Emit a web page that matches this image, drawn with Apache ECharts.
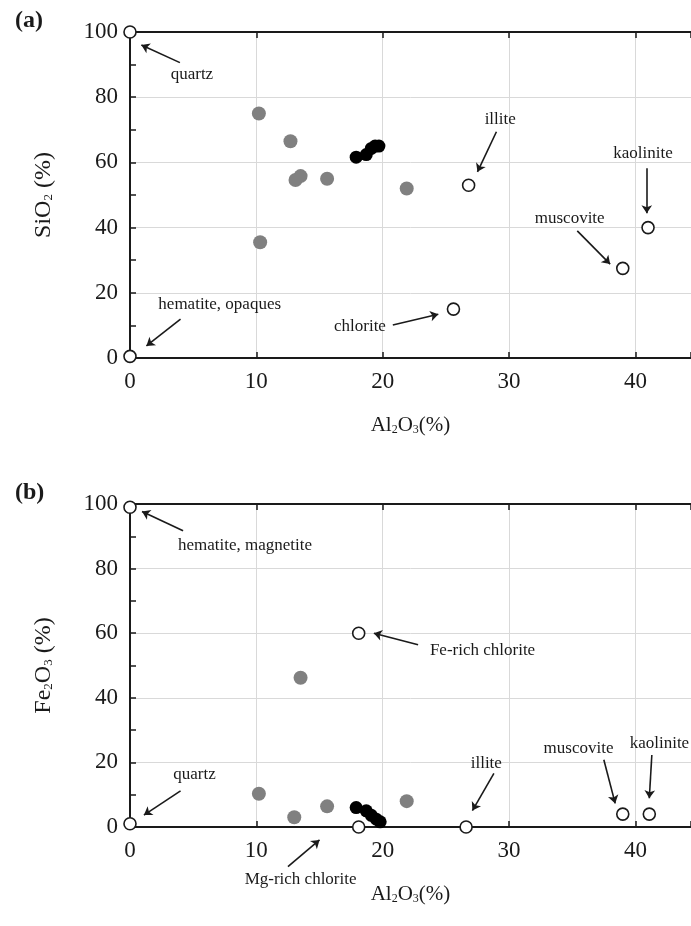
<!DOCTYPE html>
<html>
<head>
<meta charset="utf-8">
<script src="https://cdn.jsdelivr.net/npm/echarts@6/dist/echarts.min.js"></script>
<style>
  html, body { margin: 0; padding: 0; background: #fff; }
  #chart { width: 691px; height: 926px; }
</style>
</head>
<body>
<div id="chart"></div>
<script>
// (a) SiO2 vs Al2O3
const grayA = [[10.2, 75.0], [12.7, 66.5], [13.1, 54.6], [13.5, 55.8], [15.6, 55.0], [21.9, 52.0], [10.3, 35.5]]
const blackA = [[17.9, 61.6], [18.7, 62.4], [19.1, 64.3], [19.4, 65.0], [19.7, 65.0]]
const mineralsA = [[0, 100], [0, 0.5], [25.6, 15], [26.8, 53], [39.0, 27.5], [41.0, 40]]

// (b) Fe2O3 vs Al2O3
const grayB = [[10.2, 10.3], [13.0, 3.0], [13.5, 46.2], [15.6, 6.4], [21.9, 8.0]]
const blackB = [[17.9, 6.0], [18.7, 5.0], [19.1, 3.6], [19.5, 2.4], [19.8, 1.6]]
const mineralsB = [[0, 99], [0, 1], [18.1, 60], [18.1, 0], [26.6, 0], [39.0, 4], [41.1, 4]]

const xTicks = [0, 10, 20, 30, 40]
const yTicks = [0, 20, 40, 60, 80, 100]

// annotation text, label anchor, arrow tail, arrow head (data units)
const notesA = [
    { text: 'quartz', at: [4.9, 87.1], from: [3.95, 90.6], to: [0.9, 96.0] },
    { text: 'hematite, opaques', at: [7.1, 16.3], from: [4.0, 11.9], to: [1.3, 3.7] },
    { text: 'chlorite', at: [18.2, 9.6], from: [20.8, 10.1], to: [24.4, 13.4] },
    { text: 'illite', at: [29.3, 73], from: [29.0, 69.4], to: [27.5, 57.1] },
    { text: 'muscovite', at: [34.8, 42.9], from: [35.4, 39.0], to: [38.0, 28.8] },
    { text: 'kaolinite', at: [40.6, 62.8], from: [40.9, 58.2], to: [40.9, 44.4] }
]
const notesB = [
    { text: 'hematite, magnetite', at: [9.1, 87.1], from: [4.2, 91.7], to: [0.95, 97.7] },
    { text: 'Fe-rich chlorite', at: [27.9, 54.6], from: [22.8, 56.4], to: [19.3, 60] },
    { text: 'quartz', at: [5.1, 16.1], from: [4.0, 11.2], to: [1.1, 3.7] },
    { text: 'illite', at: [28.2, 19.7], from: [28.8, 16.6], to: [27.1, 5.1] },
    { text: 'muscovite', at: [35.5, 24.3], from: [37.5, 20.8], to: [38.4, 7.3] },
    { text: 'kaolinite', at: [41.9, 25.7], from: [41.3, 22.3], to: [41.1, 8.9] },
    { text: 'Mg-rich chlorite', at: [13.5, -16.2], from: [12.5, -12.3], to: [15.0, -4.0] }
]

const serif = 'Liberation Serif'
const ink = '#1a1a1a'

const xRich = {
    n: { fontFamily: serif, fontSize: 21, color: ink },
    s: { fontFamily: serif, fontSize: 12, color: ink, padding: [9, 0, 0, 0] }
}
const yRich = {
    n: { fontFamily: serif, fontSize: 24, color: ink },
    s: { fontFamily: serif, fontSize: 13, color: ink, padding: [10, 0, 0, 0] }
}

function bottomX(grid) {
    return {
        type: 'value', gridIndex: grid, min: 0, max: 44.4, interval: 10,
        position: 'bottom',
        name: '{n|Al}{s|2}{n|O}{s|3}{n|(%)}',
        nameLocation: 'middle', nameGap: 57,
        nameTextStyle: { rich: xRich },
        axisLine: { onZero: false, lineStyle: { color: ink, width: 2 } },
        axisTick: { inside: true, length: 6, lineStyle: { color: ink, width: 1.5 } },
        axisLabel: {
            fontFamily: serif, fontSize: 23, color: ink, margin: 12,
            customValues: xTicks
        },
        splitLine: { show: true, lineStyle: { color: '#d9d9d9', width: 1 } }
    }
}

function topX(grid) {
    return {
        type: 'value', gridIndex: grid, min: 0, max: 44.4, interval: 10,
        position: 'top',
        axisLine: { onZero: false, lineStyle: { color: ink, width: 2 } },
        axisTick: { inside: true, length: 6, lineStyle: { color: ink, width: 1.5 } },
        axisLabel: { show: false },
        splitLine: { show: false }
    }
}

function leftY(grid, sub) {
    return {
        type: 'value', gridIndex: grid, min: 0, max: 100, interval: 20,
        name: sub,
        nameLocation: 'middle', nameRotate: 90, nameGap: 74,
        nameTextStyle: { rich: yRich },
        axisLine: { onZero: false, lineStyle: { color: ink, width: 2 } },
        axisTick: { inside: true, length: 6, lineStyle: { color: ink, width: 1.5 } },
        minorTick: { show: true, splitNumber: 2, length: 6, lineStyle: { color: ink, width: 1.5 } },
        axisLabel: { fontFamily: serif, fontSize: 23, color: ink, margin: 12, customValues: yTicks },
        splitLine: { show: true, lineStyle: { color: '#d9d9d9', width: 1 } }
    }
}

function dots(name, data, idx, style, size) {
    return {
        name, type: 'scatter', xAxisIndex: idx * 2, yAxisIndex: idx,
        data, symbolSize: size, clip: false, itemStyle: style, z: 4
    }
}

function noteSeries(notes, idx) {
    return [
        {
            type: 'lines', coordinateSystem: 'cartesian2d',
            xAxisIndex: idx * 2, yAxisIndex: idx, clip: false,
            symbol: ['none', 'arrow'], symbolSize: [0, 8],
            lineStyle: { color: ink, width: 1.6, opacity: 1 },
            data: notes.map(n => ({ coords: [n.from, n.to] })),
            z: 3
        },
        {
            type: 'scatter', xAxisIndex: idx * 2, yAxisIndex: idx, clip: false,
            symbolSize: 0, silent: true,
            itemStyle: { color: 'rgba(0,0,0,0)', opacity: 1 },
            data: notes.map(n => ({ value: n.at, name: n.text })),
            label: {
                show: true, position: 'inside', formatter: '{b}',
                fontFamily: serif, fontSize: 17, color: ink, opacity: 1,
                textBorderWidth: 0, textBorderColor: 'transparent'
            },
            z: 5
        }
    ]
}

const openStyle = { color: '#fff', borderColor: ink, borderWidth: 1.6, opacity: 1 }
const grayStyle = { color: '#808080', opacity: 1 }
const blackStyle = { color: '#000', opacity: 1 }

const option = {
    backgroundColor: '#fff',
    animation: false,
    title: [
        { text: '(a)', left: 10, top: 4, textStyle: { fontFamily: serif, fontSize: 24, fontWeight: 'bold', color: ink } },
        { text: '(b)', left: 10, top: 476, textStyle: { fontFamily: serif, fontSize: 24, fontWeight: 'bold', color: ink } }
    ],
    grid: [
        { left: 130, top: 32, right: 0, height: 326 },
        { left: 130, top: 504, right: 0, height: 323 }
    ],
    xAxis: [bottomX(0), topX(0), bottomX(1), topX(1)],
    yAxis: [
        leftY(0, '{n|SiO}{s|2}{n| (%)}'),
        leftY(1, '{n|Fe}{s|2}{n|O}{s|3}{n| (%)}')
    ],
    series: [
        dots('grayA', grayA, 0, grayStyle, 14),
        dots('blackA', blackA, 0, blackStyle, 13),
        dots('mineralsA', mineralsA, 0, openStyle, 12),
        ...noteSeries(notesA, 0),
        dots('grayB', grayB, 1, grayStyle, 14),
        dots('blackB', blackB, 1, blackStyle, 13),
        dots('mineralsB', mineralsB, 1, openStyle, 12),
        ...noteSeries(notesB, 1)
    ]
}

const chart = echarts.init(document.getElementById('chart'))
chart.setOption(option)
</script>
</body>
</html>
